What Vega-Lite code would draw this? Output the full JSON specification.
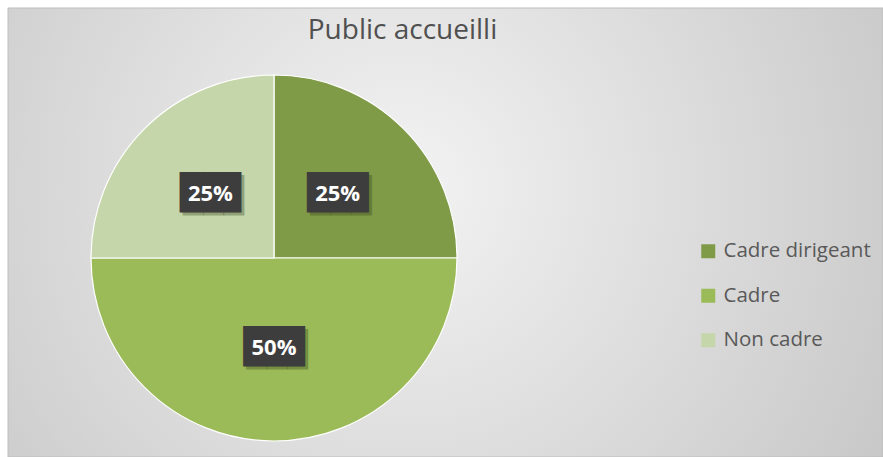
{
  "$schema": "https://vega.github.io/schema/vega-lite/v6.json",
  "width": 875,
  "height": 449,
  "autosize": {"type": "none"},
  "padding": {"left": 8, "top": 8, "right": 0, "bottom": 0},
  "background": "#ffffff",
  "config": {"view": {"stroke": null}},
  "title": {
    "text": "Public accueilli",
    "font": "Open Sans",
    "fontSize": 28,
    "fontWeight": "normal",
    "color": "#505050",
    "anchor": "middle",
    "frame": "group",
    "offset": -37,
    "dx": -43
  },
  "datasets": {
    "slices": [
      {"cat": "Cadre dirigeant", "pct": 25, "label": "25%", "ord": 1},
      {"cat": "Cadre", "pct": 50, "label": "50%", "ord": 2},
      {"cat": "Non cadre", "pct": 25, "label": "25%", "ord": 3}
    ],
    "bg": [{"name": "background"}]
  },
  "layer": [
    {
      "data": {"name": "bg"},
      "mark": {"type": "rect", "stroke": "#bdbdbd", "strokeWidth": 1,
        "color": {"gradient": "radial", "x1": 0.45, "y1": 0.45, "r1": 0, "x2": 0.45, "y2": 0.45, "r2": 0.75,
          "stops": [{"offset": 0, "color": "#f3f3f3"}, {"offset": 1, "color": "#c0c0c0"}]}}
    },
    {
      "data": {"name": "slices"},
      "encoding": {
        "theta": {"field": "pct", "type": "quantitative", "stack": true},
        "order": {"field": "ord", "type": "quantitative"}
      },
      "layer": [
        {
          "mark": {"type": "arc", "outerRadius": 183, "x": 266, "y": 250, "stroke": "#ffffff", "strokeWidth": 1.2},
          "encoding": {
            "color": {
              "field": "cat",
              "type": "nominal",
              "sort": ["Cadre dirigeant", "Cadre", "Non cadre"],
              "scale": {"domain": ["Cadre dirigeant", "Cadre", "Non cadre"], "range": ["#7f9b48", "#9bbb59", "#c5d7aa"]},
              "legend": {
                "title": null,
                "orient": "none",
                "legendX": 690,
                "legendY": 233,
                "padding": 0,
                "symbolType": "square",
                "symbolSize": 196,
                "symbolStrokeWidth": 0,
                "labelFont": "Open Sans",
                "labelFontSize": 20.5,
                "labelColor": "#595959",
                "labelOffset": 5,
                "rowPadding": 23.5
              }
            }
          }
        },
        {
          "mark": {"type": "text", "radius": 90, "x": 266, "y": 250, "dx": 3, "dy": 3, "font": "DejaVu Sans Mono", "fontSize": 34, "align": "center", "baseline": "middle", "color": "rgba(50,60,20,0.35)"},
          "encoding": {"text": {"value": "███"}}
        },
        {
          "mark": {"type": "text", "radius": 90, "x": 266, "y": 250, "font": "DejaVu Sans Mono", "fontSize": 34, "align": "center", "baseline": "middle", "color": "#3d3d3d"},
          "encoding": {"text": {"value": "███"}}
        },
        {
          "mark": {"type": "text", "radius": 90, "x": 266, "y": 250, "font": "Open Sans", "fontSize": 22, "fontWeight": "bold", "align": "center", "baseline": "middle", "color": "#ffffff"},
          "encoding": {"text": {"field": "label"}}
        }
      ]
    }
  ]
}
